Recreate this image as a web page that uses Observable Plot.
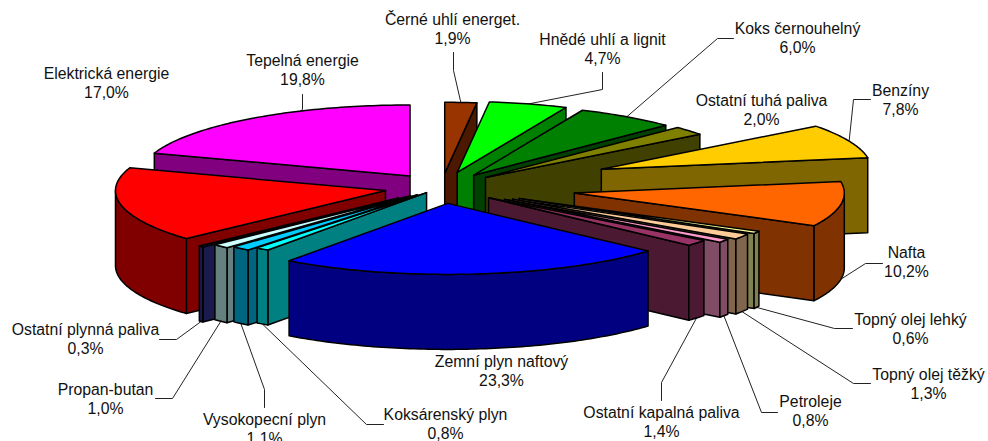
<!DOCTYPE html>
<html lang="cs">
<head>
<meta charset="utf-8">
<style>html,body{margin:0;padding:0;background:#fff}svg{display:block}</style>
<script src="https://cdn.jsdelivr.net/npm/d3@7"></script>
<script src="https://cdn.jsdelivr.net/npm/@observablehq/plot@0.6"></script>
</head>
<body>
<script>
const categories = ["Černé uhlí energet.","Hnědé uhlí a lignit","Koks černouhelný","Ostatní tuhá paliva","Benzíny","Nafta","Topný olej lehký","Topný olej těžký","Petroleje","Ostatní kapalná paliva","Zemní plyn naftový","Koksárenský plyn","Vysokopecní plyn","Propan-butan","Ostatní plynná paliva","Elektrická energie","Tepelná energie"];
const shares = [1.9,4.7,6.0,2.0,7.8,10.2,0.6,1.3,0.8,1.4,23.3,0.8,1.1,1.0,0.3,17.0,19.8];
const explosion = [0.2,0.22,0.21,0.216,0.645,0.498,0.327,0.31,0.287,0.226,0.225,0.091,0.136,0.163,0.218,0.212,0.2];
const topColors = ["#993300","#00ff00","#008000","#808000","#ffcc00","#ff6600","#ffff99","#ffcc99","#ff99cc","#993366","#0000ff","#00ffff","#00ccff","#ccffff","#333399","#ff0000","#ff00ff"];
const wallColors = ["#4c1900","#008000","#004000","#404000","#806600","#803300","#808050","#80664c","#804c66","#4c1933","#000080","#008080","#006680","#668080","#1a1a4d","#800000","#800080"];
const paintOrder = [16,0,1,2,3,4,5,6,7,8,9,15,14,13,12,11,10];

// layout (pixels of the picture)
const W = 988, H = 441, CX = 441, CY = 187, RX = 270, RY = 71, DEPTH = 75;
const labelAt = [[452,28],[602,48],[797,37],[761,109],[900,99],[906,261],[910,328],[928,383],[810,410],[661,421],[501,370],[445,423],[264,428],[105,398],[85,338],[106,82],[302,69]];
const elbows = [
  [[453,52],[453,70]], [[602,72],[602,89]], [[733,38],[717,38]], null,
  [[870,99],[853,99]], [[882,263],[865,263]], [[852,328],[834,328]], [[870,383],[853,383]],
  [[777,412],[761,412]], [[661,400],[661,382]], null, [[383,424],[366,424]],
  [[264,407],[264,389]], [[155,398],[172,398]], [[159,339],[176,339]], null,
  [[302,94],[302,109],[298,112]]
];
const endsOnOwnElbow = [16];

const rad = d => d * Math.PI / 180;
const px = (c, a) => c + RX * Math.sin(rad(a));
const py = (c, a) => c - RY * Math.cos(rad(a));

// slice geometry derived from the shares
let acc = 0;
const slices = shares.map((v, i) => {
  const a0 = acc / 100 * 360; acc += v; const a1 = acc / 100 * 360;
  const mid = (a0 + a1) / 2;
  return {i, a0, a1, mid,
    tx: CX + explosion[i] * RX * Math.sin(rad(mid)),
    ty: CY - explosion[i] * RY * Math.cos(rad(mid))};
});
const polys = [];
function addPoly(pts, fill) {
  const id = polys.length ? polys[polys.length - 1].id + 1 : 0;
  pts.forEach(([x, y]) => polys.push({id, x, y, fill}));
}
function arc(s, from, to, dy) {
  const n = Math.max(1, Math.ceil(Math.abs(to - from)));
  return d3.range(n + 1).map(k => {
    const a = from + (to - from) * k / n;
    return [px(s.tx, a), py(s.ty, a) + dy];
  });
}
for (const i of paintOrder) {
  const s = slices[i], w = wallColors[i];
  const face = a => [[s.tx, s.ty], [px(s.tx, a), py(s.ty, a)], [px(s.tx, a), py(s.ty, a) + DEPTH], [s.tx, s.ty + DEPTH]];
  if (s.a1 < 180) addPoly(face(s.a1), w);
  if (s.a0 >= 180) addPoly(face(s.a0), w);
  const lo = Math.max(s.a0, 90), hi = Math.min(s.a1, 270);
  if (hi > lo) addPoly([...arc(s, lo, hi, 0), ...arc(s, hi, lo, DEPTH)], w);
  addPoly([[s.tx, s.ty], ...arc(s, s.a0, s.a1, 0)], topColors[i]);
}

// leader lines start on the slice they point at
const leaders = [];
elbows.forEach((e, i) => {
  if (!e) return;
  const s = slices[i];
  const front = Math.cos(rad(s.mid)) < 0;
  const start = [px(s.tx, s.mid), py(s.ty, s.mid) + (front ? DEPTH : 0)];
  const pts = endsOnOwnElbow.includes(i) ? e : [...e, start];
  pts.forEach(([x, y]) => leaders.push({i, x, y}));
});
const labels = categories.map((c, i) => ({
  x: labelAt[i][0], y: labelAt[i][1],
  text: c + "\n" + shares[i].toFixed(1).replace(".", ",") + "%"
}));

const chart = Plot.plot({
  width: W, height: H, margin: 0,
  x: {domain: [0, W], range: [0, W], axis: null},
  y: {domain: [0, H], range: [0, H], axis: null},
  style: {background: "#fff"},
  marks: [
    Plot.line(leaders, {x: "x", y: "y", z: "i", stroke: "#222", strokeWidth: 1}),
    Plot.line(polys, {x: "x", y: "y", z: "id", fill: "fill", stroke: "#000", strokeWidth: 1.5, curve: "linear-closed"}),
    Plot.text(labels, {x: "x", y: "y", text: "text", fontFamily: "'Liberation Sans', Arial, sans-serif", fontSize: 15.8, lineHeight: 1.2, fill: "#111"})
  ]
});
document.body.appendChild(chart);
</script>
</body>
</html>
